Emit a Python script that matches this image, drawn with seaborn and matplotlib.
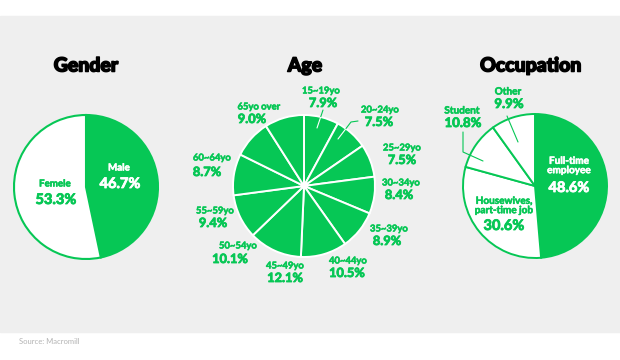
import matplotlib.pyplot as plt
import matplotlib.patheffects as pe
import seaborn as sns
from matplotlib.patches import Rectangle, Circle

# data
gender_labels = ["Male", "Femele"]
gender_values = [46.7, 53.3]

age_labels = ["15~19yo", "20~24yo", "25~29yo", "30~34yo", "35~39yo", "40~44yo",
              "45~49yo", "50~54yo", "55~59yo", "60~64yo", "65yo over"]
age_values = [7.9, 7.5, 7.5, 8.4, 8.9, 10.5, 12.1, 10.1, 9.4, 8.7, 9.0]

occ_labels = ["Full-time\nemployee", "Housewives,\npart-time job", "Student", "Other"]
occ_values = [48.6, 30.6, 10.8, 9.9]

GREEN = "#06c755"
BG = "#efefef"

sns.set_style("white")
plt.rcParams["font.family"] = ["Lato", "DejaVu Sans"]

W, H = 620, 360
fig = plt.figure(figsize=(6.2, 3.6), dpi=100)
fig.patch.set_facecolor("white")
ax = fig.add_axes([0, 0, 1, 1])


def Y(py):
    # pixel row (from top) -> data y
    return H - py


def heavy(color, w=0.6):
    return [pe.withStroke(linewidth=w, foreground=color)]


ax.add_patch(Rectangle((0, Y(332)), W, 316, color=BG, zorder=0))

R = 72
centers = {"gender": (86, Y(187)), "age": (304, Y(186)), "occ": (535, Y(186))}

# Gender pie
ax.pie(gender_values, center=centers["gender"], radius=R, startangle=90,
       counterclock=False, colors=[GREEN, "white"],
       wedgeprops=dict(edgecolor=GREEN, linewidth=1.5))

# Age pie
ax.pie(age_values, center=centers["age"], radius=R - 1, startangle=90,
       counterclock=False, colors=[GREEN] * len(age_values),
       wedgeprops=dict(edgecolor="white", linewidth=1.4))

# Occupation pie
ax.pie(occ_values, center=centers["occ"], radius=R, startangle=90,
       counterclock=False, colors=[GREEN, "white", "white", "white"],
       wedgeprops=dict(edgecolor=GREEN, linewidth=1.4))

ax.set_xlim(0, W)
ax.set_ylim(0, H)
ax.set_aspect("auto")
ax.axis("off")

title_kw = dict(fontsize=14, fontweight="black", color="black", ha="center",
                va="center", path_effects=heavy("black", 1.1))
ax.text(86, Y(66), "Gender", **title_kw)
ax.text(305, Y(66), "Age", **title_kw)
ax.text(531, Y(66), "Occupation", **title_kw)


def two_line(x1, y1, x2, y2, name, val, color, s1=6.8, s2=9.2):
    ax.text(x1, Y(y1), name, fontsize=s1, fontweight="bold", color=color,
            ha="center", va="center", path_effects=heavy(color, 0.4))
    ax.text(x2, Y(y2), f"{val}%", fontsize=s2, fontweight="bold", color=color,
            ha="center", va="center", path_effects=heavy(color, 0.6))


# gender labels
two_line(119, 168, 120, 184, gender_labels[0], gender_values[0], "white", 7, 10.5)
two_line(55, 184, 56, 200, gender_labels[1], gender_values[1], GREEN, 7, 10.5)

# age labels (pixel positions of name / value lines)
age_pos = [(321, 91, 323, 103), (380, 110, 379, 122), (402, 148, 402, 160),
           (401, 183, 399, 195), (389, 229, 387, 241), (348, 261, 347, 273),
           (285, 266, 285, 278), (238, 246, 230, 259), (215, 211, 213, 223),
           (212, 158, 207, 172), (259, 107, 252, 119)]
for name, val, (x1, y1, x2, y2) in zip(age_labels, age_values, age_pos):
    two_line(x1, y1, x2, y2, name, val, GREEN)

# age leader lines: green outside, white inside the pie
clip = Circle(centers["age"], R - 1, transform=ax.transData)
for xs, ys in [([317, 323], [128, 110]), ([338, 351, 358], [139, 122, 121])]:
    yy = [Y(v) for v in ys]
    ax.plot(xs, yy, color=GREEN, lw=0.8, zorder=5)
    ln, = ax.plot(xs, yy, color="white", lw=0.8, zorder=6)
    ln.set_clip_path(clip)

# occupation labels
ax.text(569, Y(166), occ_labels[0], fontsize=7.2, fontweight="bold", color="white",
        ha="center", va="center", linespacing=1.05, path_effects=heavy("white", 0.4))
ax.text(569, Y(188), f"{occ_values[0]}%", fontsize=10.5, fontweight="bold",
        color="white", ha="center", va="center", path_effects=heavy("white", 0.6))
ax.text(504, Y(206), occ_labels[1], fontsize=7.2, fontweight="bold", color=GREEN,
        ha="center", va="center", linespacing=1.05, path_effects=heavy(GREEN, 0.4))
ax.text(504, Y(226), f"{occ_values[1]}%", fontsize=10.5, fontweight="bold",
        color=GREEN, ha="center", va="center", path_effects=heavy(GREEN, 0.6))
two_line(462, 111, 463, 123, occ_labels[2], occ_values[2], GREEN, 7.2, 9.5)
two_line(508, 92, 509, 104, occ_labels[3], occ_values[3], GREEN, 7.2, 9.5)

for xs, ys in [([518, 507], [142, 116]), ([483, 463, 463], [161, 152, 132])]:
    ax.plot(xs, [Y(v) for v in ys], color=GREEN, lw=0.8, zorder=5)

ax.text(19, Y(341), "Source: Macromill", fontsize=5.5, color="#b3b3b3",
        ha="left", va="center")

fig.savefig("out.png", dpi=100, facecolor="white")
